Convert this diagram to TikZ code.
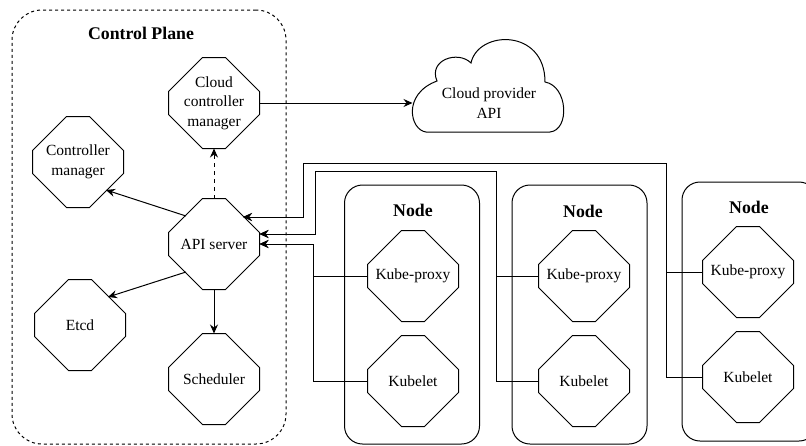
\documentclass[tikz,border=0pt]{standalone}
\usepackage{fontspec}
\setmainfont{Liberation Serif}
\usetikzlibrary{arrows.meta,calc}
\begin{document}
\begin{tikzpicture}[x=1pt,y=-1pt,line width=1pt,
  txt/.style={font=\fontsize{15.5}{19.5}\selectfont},
  ttl/.style={font=\fontsize{17.8}{21}\selectfont\bfseries},
  oct/.style={txt,rectangle,minimum width=90pt,minimum height=90pt,
    inner sep=0pt,align=center},
  plane/.style={draw,dashed,dash pattern=on 3pt off 3pt,rounded corners=30pt,inner sep=0pt},
  host/.style={draw,rounded corners=18pt,inner sep=0pt,minimum width=135pt,minimum height=259pt},
  arr/.style={-{Stealth[length=9pt,width=8pt,inset=3pt]}}]
% octagon outline around a 90x90 node, corners cut by 34
\newcommand\octoutline[1]{%
  \draw ($(#1.north west)+(34,0)$) -- ($(#1.north east)+(-34,0)$)
    -- ($(#1.north east)+(0,34)$) -- ($(#1.south east)+(0,-34)$)
    -- ($(#1.south east)+(-34,0)$) -- ($(#1.south west)+(34,0)$)
    -- ($(#1.south west)+(0,-34)$) -- ($(#1.north west)+(0,34)$) -- cycle;}
\useasboundingbox (0,0) rectangle (806,445);
\fill[white] (0,0) rectangle (806,445);
\clip (0,0) rectangle (806,445);

% control plane
\node[plane,minimum width=274pt,minimum height=434pt] (cp) at (149,227) {};
\node[ttl] (cptitle) at (141,33) {Control Plane};
\node[oct] (ccm) at (214,103) {Cloud\\controller\\manager};
\node[oct] (cm)  at (78,162)  {Controller\\manager};
\node[oct] (api) at (214,244) {API server};
\node[oct] (etcd) at (80,325) {Etcd};
\node[oct] (sch) at (214,379) {Scheduler};

% cloud provider
\draw (437,81) .. controls (428,60) and (458,50) .. (471,63)
  .. controls (478,30) and (545,28) .. (545,82)
  .. controls (568,86) and (570,130) .. (550,132)
  -- (426,132)
  .. controls (410,130) and (402,94) .. (437,81) -- cycle;
\node[txt,align=center,minimum width=152pt,inner sep=0pt] (cloud) at (489,103) {Cloud provider\\API};

% worker nodes
\node[host] (h1) at (412,314.5) {};
\node[host] (h2) at (579.5,314.5) {};
\node[host] (h3) at (749.5,311.5) {};
\node[ttl] (h1t) at (413,210) {Node};
\node[ttl] (h2t) at (583,211) {Node};
\node[ttl] (h3t) at (749,207) {Node};
\node[oct] (kp1) at (413,276) {Kube-proxy};
\node[oct] (kl1) at (413,381) {Kubelet};
\node[oct] (kp2) at (584,276) {Kube-proxy};
\node[oct] (kl2) at (584,381) {Kubelet};
\node[oct] (kp3) at (748,272) {Kube-proxy};
\node[oct] (kl3) at (748,377) {Kubelet};

\foreach \n in {ccm,cm,api,etcd,sch,kp1,kl1,kp2,kl2,kp3,kl3} {\octoutline{\n}}

% points on the cut corners
\coordinate (apiNW) at ($(api.center)+(-28,-28)$);
\coordinate (apiSW) at ($(api.center)+(-28,28)$);
\coordinate (apiNE) at ($(api.center)+(29,-27)$);
\coordinate (cmSE) at ($(cm.center)+(28,28)$);
\coordinate (etcdNE) at ($(etcd.center)+(28,-28)$);

% control plane connectors
\draw[arr] (apiNW) -- (cmSE);
\draw[arr] (apiSW) -- (etcdNE);
\draw[arr] (api.south) -- (sch.north);
\draw[arr,dash pattern=on 4pt off 4pt] (api.north) -- (ccm.south);
\draw[arr] (ccm.east) -- (cloud.west);

% node connectors
\coordinate (b1) at (313,244);
\coordinate (c2a) at (496,171);
\coordinate (c2b) at (315,234);
\coordinate (c3a) at (666,163);
\coordinate (c3b) at (303,217);
\draw[arr] (kp1.west) -| (b1) -- (api.east);
\draw[arr] (kl1.west) -| (b1) -- (api.east);
\draw[arr] (kp2.west) -| (c2a) -| (c2b) -- (c2b -| api.east);
\draw[arr] (kl2.west) -| (c2a) -| (c2b) -- (c2b -| api.east);
\draw[arr] (kp3.west) -| (c3a) -| (c3b) -- (c3b -| apiNE);
\draw[arr] (kl3.west) -| (c3a) -| (c3b) -- (c3b -| apiNE);
\end{tikzpicture}
\end{document}
